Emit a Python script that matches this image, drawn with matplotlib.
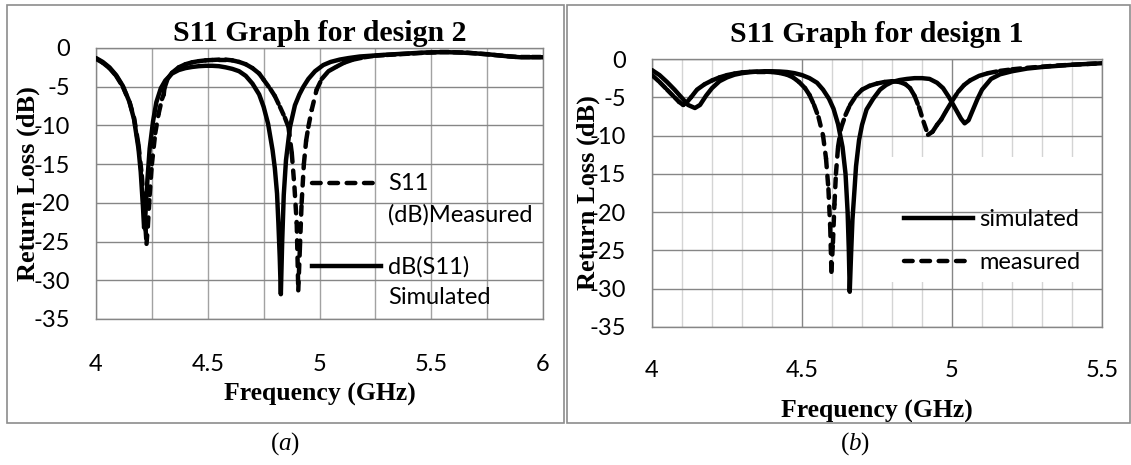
import numpy as np
import matplotlib
matplotlib.use("Agg")
import matplotlib.pyplot as plt
from matplotlib.collections import LineCollection
from matplotlib.lines import Line2D
from matplotlib.patches import Rectangle
from matplotlib.legend_handler import HandlerLine2D
from matplotlib.ticker import MultipleLocator, FormatStrFormatter

plt.rcParams['axes.unicode_minus'] = False
plt.rcParams['mathtext.fontset'] = 'custom'
plt.rcParams['mathtext.it'] = 'Liberation Serif:italic'
plt.rcParams['mathtext.rm'] = 'Liberation Serif'

SERIF = 'Liberation Serif'
SANS = 'Lato'

# ---- design 2 (panel a) ----
f2_sim = [4.00, 4.03, 4.06, 4.09, 4.12, 4.15, 4.17, 4.19, 4.20, 4.21, 4.215, 4.22, 4.23, 4.24, 4.255,
          4.27, 4.29, 4.31, 4.34, 4.37, 4.40, 4.43, 4.46, 4.49, 4.52, 4.55, 4.58, 4.61, 4.64, 4.67,
          4.70, 4.73, 4.75, 4.77, 4.79, 4.80, 4.81, 4.816, 4.822, 4.827, 4.833, 4.84, 4.85, 4.868,
          4.89, 4.91, 4.928, 4.95, 4.98, 5.017, 5.05, 5.09, 5.13, 5.18, 5.23, 5.28, 5.34, 5.40, 5.46,
          5.52, 5.58, 5.64, 5.70, 5.75, 5.80, 5.85, 5.90, 5.95, 6.00]
s2_sim = [-1.3, -1.8, -2.5, -3.5, -4.9, -7.0, -9.2, -13.0, -16.0, -20.5, -23.2, -22.0, -17.0, -13.0, -9.5,
          -7.0, -5.2, -4.2, -3.3, -2.85, -2.6, -2.45, -2.35, -2.3, -2.3, -2.35, -2.5, -2.7, -3.0, -3.6,
          -4.6, -6.0, -7.6, -9.8, -13.2, -15.5, -18.8, -22.6, -27.0, -31.8, -25.0, -19.0, -14.5, -10.2,
          -7.4, -6.0, -5.0, -4.0, -3.0, -2.2, -1.8, -1.5, -1.3, -1.1, -1.0, -0.9, -0.8, -0.7, -0.6,
          -0.55, -0.55, -0.6, -0.7, -0.8, -0.95, -1.1, -1.2, -1.2, -1.2]

f2_mea = [4.00, 4.03, 4.06, 4.09, 4.12, 4.15, 4.17, 4.19, 4.205, 4.215, 4.222, 4.226, 4.232, 4.24, 4.25,
          4.265, 4.28, 4.295, 4.303, 4.306, 4.32, 4.34, 4.37, 4.40, 4.43, 4.46, 4.49, 4.52, 4.55, 4.58,
          4.61, 4.64, 4.67, 4.70, 4.73, 4.75, 4.78, 4.80, 4.823, 4.845, 4.861, 4.876, 4.888, 4.898,
          4.905, 4.912, 4.92, 4.93, 4.94, 4.95, 4.965, 4.987, 5.01, 5.04, 5.077, 5.11, 5.15, 5.20,
          5.25, 5.30, 5.36, 5.42, 5.48, 5.54, 5.60, 5.66, 5.72, 5.78, 5.84, 5.90, 5.95, 6.00]
s2_mea = [-1.4, -1.9, -2.6, -3.6, -5.0, -7.0, -9.0, -12.5, -16.5, -20.5, -23.5, -25.3, -23.0, -19.0, -15.0,
          -11.0, -8.5, -6.6, -6.0, -5.2, -4.0, -3.2, -2.5, -2.1, -1.85, -1.7, -1.6, -1.55, -1.5, -1.5,
          -1.6, -1.8, -2.1, -2.6, -3.3, -4.1, -5.3, -6.2, -7.6, -9.0, -10.2, -13.6, -18.0, -22.6,
          -31.3, -26.0, -20.0, -15.0, -12.0, -10.2, -8.0, -5.4, -4.0, -3.0, -2.4, -1.9, -1.5, -1.2,
          -1.0, -0.9, -0.8, -0.7, -0.6, -0.55, -0.55, -0.6, -0.75, -0.9, -1.05, -1.2, -1.2, -1.2]

# ---- design 1 (panel b) ----
f1_sim = [4.00, 4.025, 4.05, 4.075, 4.10, 4.12, 4.143, 4.16, 4.18, 4.20, 4.225, 4.25, 4.275, 4.30, 4.325,
          4.35, 4.375, 4.40, 4.425, 4.45, 4.475, 4.50, 4.525, 4.55, 4.57, 4.59, 4.605, 4.62, 4.635,
          4.645, 4.652, 4.656, 4.659, 4.663, 4.668, 4.675, 4.68, 4.69, 4.70, 4.715, 4.737, 4.76, 4.78,
          4.80, 4.825, 4.85, 4.875, 4.90, 4.925, 4.95, 4.97, 4.99, 5.01, 5.03, 5.042, 5.055, 5.07,
          5.085, 5.10, 5.13, 5.16, 5.20, 5.25, 5.30, 5.35, 5.40, 5.45, 5.50]
s1_sim = [-1.45, -2.1, -3.0, -4.0, -5.1, -6.0, -6.4, -6.0, -4.8, -3.8, -2.9, -2.4, -2.05, -1.85, -1.72,
          -1.65, -1.6, -1.6, -1.63, -1.7, -1.85, -2.1, -2.5, -3.1, -4.0, -5.2, -6.5, -8.5, -11.5,
          -15.0, -20.0, -25.0, -30.4, -26.0, -21.0, -17.0, -14.0, -10.6, -8.6, -6.6, -5.2, -4.0, -3.4,
          -3.0, -2.75, -2.6, -2.5, -2.5, -2.6, -3.1, -3.8, -5.0, -6.4, -7.8, -8.4, -8.0, -6.6,
          -5.2, -4.0, -2.6, -2.0, -1.6, -1.25, -1.05, -0.9, -0.75, -0.65, -0.55]

f1_mea = [4.00, 4.025, 4.05, 4.075, 4.09, 4.104, 4.115, 4.13, 4.15, 4.175, 4.20, 4.225, 4.25, 4.275, 4.30,
          4.325, 4.35, 4.375, 4.40, 4.425, 4.45, 4.47, 4.49, 4.51, 4.525, 4.54, 4.555, 4.57, 4.58,
          4.588, 4.594, 4.598, 4.603, 4.608, 4.613, 4.62, 4.63, 4.645, 4.66, 4.68, 4.70, 4.725, 4.75,
          4.775, 4.80, 4.825, 4.845, 4.86, 4.875, 4.89, 4.905, 4.92, 4.935, 4.95, 4.964, 4.98, 5.00,
          5.02, 5.04, 5.06, 5.09, 5.12, 5.16, 5.20, 5.25, 5.30, 5.35, 5.40, 5.45, 5.50]
s1_mea = [-2.1, -3.0, -4.0, -5.0, -5.6, -6.0, -5.7, -5.0, -4.0, -3.3, -2.8, -2.4, -2.1, -1.9, -1.75,
          -1.68, -1.65, -1.65, -1.7, -1.82, -2.05, -2.4, -3.0, -3.8, -4.7, -6.0, -7.6, -10.0, -13.0,
          -17.0, -22.0, -27.8, -24.0, -19.0, -15.0, -11.5, -9.0, -7.3, -6.0, -4.8, -4.0, -3.5, -3.2,
          -3.0, -2.9, -3.0, -3.3, -3.8, -4.8, -6.3, -8.2, -9.9, -9.5, -8.6, -7.9, -6.8, -5.5,
          -4.3, -3.4, -2.8, -2.2, -1.85, -1.55, -1.35, -1.15, -1.0, -0.85, -0.75, -0.65, -0.55]

y_ticks = [0, -5, -10, -15, -20, -25, -30, -35]

LW = 3.2
DASH = (0, (1.95, 1.95))


class FirstLineHandler(HandlerLine2D):
    # put the legend line next to the first row of a two-line label
    def __init__(self, shift=0.0, **kw):
        super().__init__(**kw)
        self.shift = shift

    def create_artists(self, legend, orig_handle, xdescent, ydescent, width, height, fontsize, trans):
        arts = super().create_artists(legend, orig_handle, xdescent, ydescent, width, height, fontsize, trans)
        for a in arts:
            a.set_ydata(np.asarray(a.get_ydata()) + self.shift * fontsize)
        return arts


def draw_dashed(ax, f, s):
    # excel restarts the dash on every segment, so the flat parts come out solid
    pts = np.column_stack([f, s])
    segs = np.stack([pts[:-1], pts[1:]], axis=1)
    lc = LineCollection(segs, colors='black', linewidths=LW, linestyles=[DASH], capstyle='round', zorder=3)
    ax.add_collection(lc)


def setup_axes(ax, xmax, title, title_pad, xpad, ylab_x, xlab_pad):
    ax.set_xlim(4, xmax)
    ax.set_ylim(-35, 0)
    ax.set_yticks(y_ticks)
    ax.xaxis.set_major_locator(MultipleLocator(0.5))
    ax.xaxis.set_major_formatter(FormatStrFormatter('%g'))
    ax.tick_params(which='both', length=0)
    ax.tick_params(axis='y', pad=19, labelsize=17)
    ax.tick_params(axis='x', pad=xpad, labelsize=17)
    for lab in ax.get_xticklabels() + ax.get_yticklabels():
        lab.set_family(SANS)
    for sp in ax.spines.values():
        sp.set_color('#868686')
        sp.set_linewidth(1.0)
    ax.set_title(title, family=SERIF, fontweight='bold', fontsize=21.5, pad=title_pad)
    ax.set_xlabel('Frequency (GHz)', family=SERIF, fontweight='bold', fontsize=18.5, labelpad=xlab_pad)
    ax.set_ylabel('Return Loss (dB)', family=SERIF, fontweight='bold', fontsize=19, va='center')
    ax.yaxis.set_label_coords(ylab_x, 0.5)
    ax.set_axisbelow(True)


fig = plt.figure(figsize=(11.31, 4.65), dpi=100)

# panel frames
fig.add_artist(Rectangle((0.0062, 0.0903), 0.4925, 0.899, transform=fig.transFigure,
                         fill=False, ec='#8c8c8c', lw=1.2))
fig.add_artist(Rectangle((0.5013, 0.0903), 0.4978, 0.899, transform=fig.transFigure,
                         fill=False, ec='#8c8c8c', lw=1.2))

# ---- (a) design 2 ----
ax1 = fig.add_axes([0.0849, 0.314, 0.3952, 0.5828])
setup_axes(ax1, 6, 'S11 Graph for design 2', 5, 25.5, -0.152, 5.5)
ax1.xaxis.set_minor_locator(MultipleLocator(0.25))
ax1.grid(True, which='major', axis='y', color='#868686', lw=1.0)
ax1.grid(True, which='both', axis='x', color='#a2a2a2', lw=1.0)

draw_dashed(ax1, f2_mea, s2_mea)
ax1.plot(f2_sim, s2_sim, color='black', lw=LW, solid_joinstyle='round', solid_capstyle='round', zorder=4)

h_mea = Line2D([], [], color='black', lw=LW, linestyle=DASH, dash_capstyle='round')
h_sim = Line2D([], [], color='black', lw=LW)
leg1 = ax1.legend([h_mea, h_sim], ['S11\n(dB)Measured', 'dB(S11)\nSimulated'],
                  handler_map={h_mea: FirstLineHandler(0.68), h_sim: FirstLineHandler(0.68)},
                  loc='upper left', bbox_to_anchor=(0.484, 0.538), frameon=False,
                  borderpad=0, borderaxespad=0, handlelength=2.9, handletextpad=0.3,
                  labelspacing=1.3, prop={'family': SANS, 'size': 17})
for t in leg1.get_texts():
    t.set_linespacing(1.54)

# ---- (b) design 1 ----
ax2 = fig.add_axes([0.5765, 0.2968, 0.3979, 0.5763])
setup_axes(ax2, 5.5, 'S11 Graph for design 1', 12, 24, -0.142, 13.5)
ax2.xaxis.set_minor_locator(MultipleLocator(0.1))
ax2.grid(True, which='major', color='#868686', lw=1.0)
# minor grid sits under the legend's white box, major grid stays on top of it
for xm in ax2.xaxis.get_minorticklocs():
    ax2.axvline(xm, color='#d4d4d4', lw=1.0, zorder=0.2)
ax2.add_patch(Rectangle((0.52, 0.169), 0.48, 0.465, transform=ax2.transAxes,
                        fc='white', ec='none', zorder=0.3))

ax2.plot(f1_sim, s1_sim, color='black', lw=LW, solid_joinstyle='round', solid_capstyle='round', zorder=4)
draw_dashed(ax2, f1_mea, s1_mea)

h_sim2 = Line2D([], [], color='black', lw=LW)
h_mea2 = Line2D([], [], color='black', lw=LW, linestyle=DASH, dash_capstyle='round')
ax2.legend([h_sim2, h_mea2], ['simulated', 'measured'],
           loc='upper left', bbox_to_anchor=(0.56, 0.44), frameon=False,
           borderpad=0, borderaxespad=0, handlelength=2.9, handletextpad=0.3,
           labelspacing=0.93, prop={'family': SANS, 'size': 17})

# captions, upright brackets with an italic letter
fig.text(0.252, 0.047, r'($\mathit{a}$)', family=SERIF, fontsize=18, ha='center', va='center')
fig.text(0.756, 0.047, r'($\mathit{b}$)', family=SERIF, fontsize=18, ha='center', va='center')

fig.savefig('out.png', dpi=100)
